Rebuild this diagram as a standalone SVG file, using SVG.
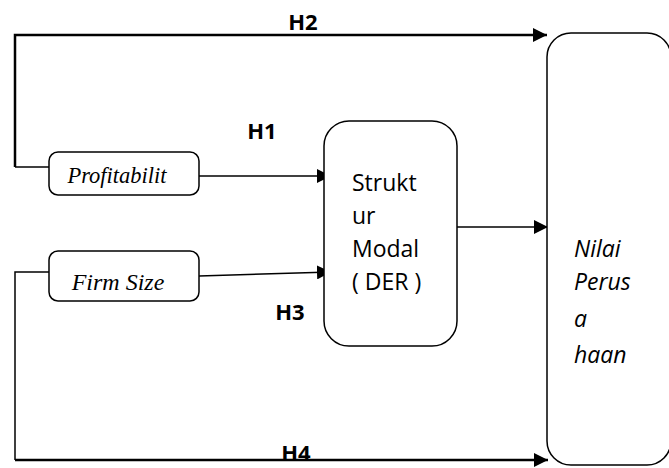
<svg xmlns="http://www.w3.org/2000/svg" width="669" height="468" viewBox="0 0 669 468">
<defs>
<marker id="arrb" viewBox="0 0 10 10" refX="10" refY="5" markerWidth="14" markerHeight="14" markerUnits="userSpaceOnUse" orient="auto"><path d="M0,0 L10,5 L0,10 z" fill="#000"/></marker>
<style>
.box{fill:#fff;stroke:#000;stroke-width:1.5}
.ln{fill:none;stroke:#000;stroke-width:1.5}
.lnb{fill:none;stroke:#000;stroke-width:2.5}
.it{font-family:"Liberation Serif",serif;font-style:italic;fill:#000}
.sans{font-family:"Open Sans","Liberation Sans",sans-serif;font-size:23px;fill:#000}
.lbl{font-family:"Open Sans","Liberation Sans",sans-serif;font-weight:bold;font-size:22px;fill:#000}
</style>
</defs>
<rect width="669" height="468" fill="#fff"/>
<g id="connectors">
<path class="lnb" d="M15,167 L15,35 L547,35" marker-end="url(#arrb)"/>
<path class="ln" d="M15,167 L49,167"/>
<path class="ln" d="M199,176 L331,176" marker-end="url(#arrb)"/>
<path class="ln" d="M199,276 L331,272" marker-end="url(#arrb)"/>
<path class="ln" d="M49,272 L15,272 L15,460"/>
<path class="lnb" d="M15,460 L548,460" marker-end="url(#arrb)"/>
<path class="ln" d="M457,227 L548,227" marker-end="url(#arrb)"/>
</g>
<g id="nilai">
<rect class="box" x="547" y="33" width="124" height="432" rx="24"/>
<text class="sans" font-style="italic" x="574" y="257">Nilai</text>
<text class="sans" font-style="italic" x="574" y="290">Perus</text>
<text class="sans" font-style="italic" x="574" y="327">a</text>
<text class="sans" font-style="italic" x="574" y="363">haan</text>
</g>
<g id="profitabilitas">
<rect class="box" x="49" y="152" width="150" height="43" rx="9"/>
<text class="it" font-size="22.5" x="117" y="183" text-anchor="middle">Profitabilit</text>
</g>
<g id="firmsize">
<rect class="box" x="49" y="251" width="150" height="50" rx="9"/>
<text class="it" font-size="24" x="118" y="290" text-anchor="middle">Firm Size</text>
</g>
<g id="struktur">
<rect class="box" x="324" y="121" width="133" height="225" rx="25"/>
<text class="sans" x="352" y="191">Strukt</text>
<text class="sans" x="352" y="224">ur</text>
<text class="sans" x="352" y="257">Modal</text>
<text class="sans" x="352" y="290">( DER )</text>
</g>
<g id="labels">
<text class="lbl" x="303" y="30" text-anchor="middle">H2</text>
<text class="lbl" x="262" y="139" text-anchor="middle">H1</text>
<text class="lbl" x="290" y="320" text-anchor="middle">H3</text>
<text class="lbl" x="296" y="461" text-anchor="middle">H4</text>
</g>
</svg>
